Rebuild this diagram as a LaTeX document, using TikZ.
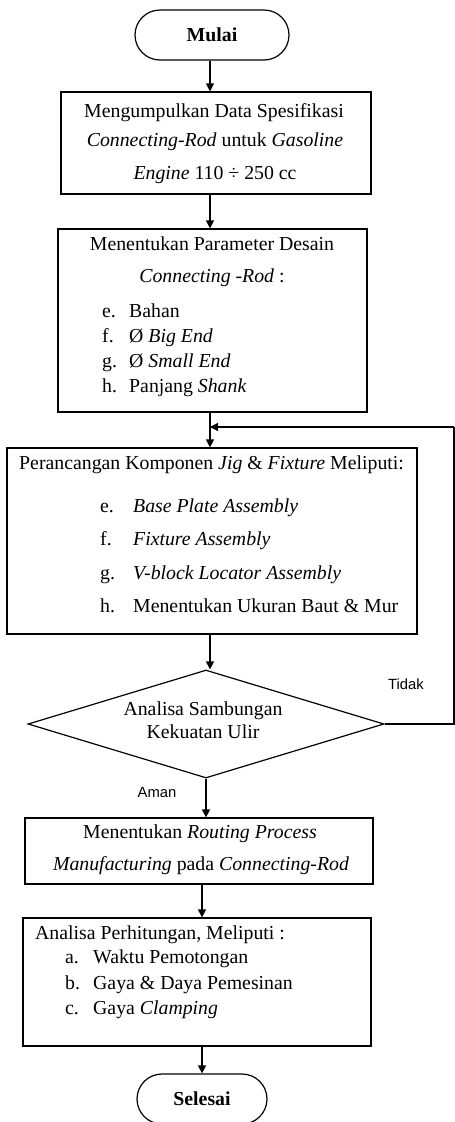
\documentclass[tikz,border=0pt]{standalone}
\usepackage{fontspec}
\setmainfont{Liberation Serif}
\newfontfamily\lsans{Liberation Sans}
\usetikzlibrary{shapes.geometric,arrows.meta}
\tikzset{
  box/.style={draw, line width=1.2pt, inner sep=0pt, rectangle},
  term/.style={draw, line width=1.2pt, inner sep=0pt, rounded corners=25pt, minimum height=50pt, font=\fontsize{19.8}{23}\selectfont\bfseries},
  txt/.style={inner sep=0pt, font=\fontsize{19.8}{23}\selectfont},
  ctxt/.style={txt, anchor=mid},
  ltxt/.style={txt, anchor=mid west},
  stxt/.style={inner sep=0pt, anchor=mid, font=\lsans\fontsize{14.8}{17}\selectfont},
  arr/.style={line width=1.2pt, -{Triangle[length=8pt,width=8pt]}},
  ln/.style={line width=1.2pt}
}
\begin{document}
\begin{tikzpicture}[x=1pt,y=-1pt]
\useasboundingbox (0,0) rectangle (455,1122);
% columns for connectors
\coordinate (c1) at (210,0);
% nodes
\node[term, minimum width=154pt] (mulai) at (212,35) {Mulai};
\node[box, minimum width=310pt, minimum height=102pt] (b1) at (216,143) {};
\node[ctxt] (b1a) at (214,115) {Mengumpulkan Data Spesifikasi};
\node[ctxt] (b1b) at (215,144) {\textit{Connecting-Rod} untuk \textit{Gasoline}};
\node[ctxt] (b1c) at (215,177) {\textit{Engine} 110 ÷ 250 cc};

\node[box, minimum width=309pt, minimum height=183pt] (b2) at (212.5,320.5) {};
\node[ctxt] (b2a) at (212,248) {Menentukan Parameter Desain};
\node[ctxt] (b2b) at (212,280) {\textit{Connecting -Rod} :};
\node[ltxt] (b2l1) at (102,315) {e.};
\node[ltxt] (b2t1) at (129,315) {Bahan};
\node[ltxt] (b2l2) at (102,340) {f.};
\node[ltxt] (b2t2) at (129,340) {Ø \textit{Big End}};
\node[ltxt] (b2l3) at (102,365) {g.};
\node[ltxt] (b2t3) at (129,365) {Ø \textit{Small End}};
\node[ltxt] (b2l4) at (102,390) {h.};
\node[ltxt] (b2t4) at (129,390) {Panjang \textit{Shank}};

\node[box, minimum width=410pt, minimum height=186pt] (b3) at (212,541) {};
\node[ltxt] (b3a) at (19,467) {Perancangan Komponen \textit{Jig} \& \textit{Fixture} Meliputi:};
\node[ltxt] (b3l1) at (100,510) {e.};
\node[ltxt] (b3t1) at (133,510) {\textit{Base Plate Assembly}};
\node[ltxt] (b3l2) at (100,543) {f.};
\node[ltxt] (b3t2) at (133,543) {\textit{Fixture Assembly}};
\node[ltxt] (b3l3) at (100,577) {g.};
\node[ltxt] (b3t3) at (133,577) {\textit{V-block Locator Assembly}};
\node[ltxt] (b3l4) at (100,610) {h.};
\node[ltxt] (b3t4) at (133,610) {Menentukan Ukuran Baut \& Mur};

\node[draw, line width=1.2pt, diamond, inner sep=0pt, minimum width=356pt, minimum height=108pt] (dia) at (206,724) {};
\node[ctxt] (dia1) at (203,713) {Analisa Sambungan};
\node[ctxt] (dia2) at (203,736) {Kekuatan Ulir};
\node[stxt] (tidak) at (406,687) {Tidak};
\node[stxt] (aman) at (157,795) {Aman};

\node[box, minimum width=348pt, minimum height=66pt] (b4) at (199,851) {};
\node[ctxt] (b4a) at (200,836) {Menentukan \textit{Routing Process}};
\node[ctxt] (b4b) at (201,868) {\textit{Manufacturing} pada \textit{Connecting-Rod}};

\node[box, minimum width=348pt, minimum height=128pt] (b5) at (197,982) {};
\node[ltxt] (b5a) at (35,937) {Analisa Perhitungan, Meliputi :};
\node[ltxt] (b5l1) at (65,961) {a.};
\node[ltxt] (b5t1) at (93,961) {Waktu Pemotongan};
\node[ltxt] (b5l2) at (65,987) {b.};
\node[ltxt] (b5t2) at (93,987) {Gaya \& Daya Pemesinan};
\node[ltxt] (b5l3) at (65,1012) {c.};
\node[ltxt] (b5t3) at (93,1012) {Gaya \textit{Clamping}};

\node[term, minimum width=130pt] (selesai) at (202,1099) {Selesai};

% connectors
\draw[arr] (mulai.south -| c1) -- (b1.north -| c1);
\draw[arr] (b1.south -| c1) -- (b2.north -| c1);
\draw[arr] (b2.south -| c1) -- (b3.north -| c1);
\draw[arr] (b3.south -| c1) -- (dia.north -| c1);
\draw[arr] (dia.south) -- (b4.north -| dia.south);
\coordinate (c3) at (202,0);
\draw[arr] (b4.south -| c3) -- (b5.north -| c3);
\draw[arr] (b5.south -| c3) -- (selesai.north -| c3);
% feedback
\coordinate (r1) at (454,724);
\coordinate (r2) at (454,427);
\draw[ln] (dia.east) -- (r1) -- (r2);
\draw[arr] (r2) -- (r2 -| c1);
\end{tikzpicture}
\end{document}
